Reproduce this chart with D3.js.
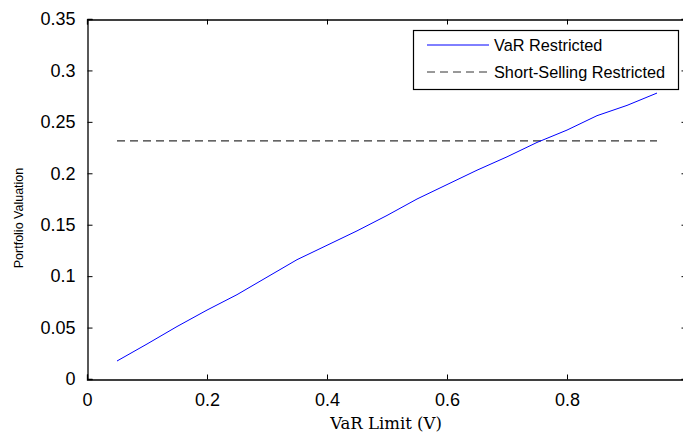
<!DOCTYPE html>
<html>
<head>
<meta charset="utf-8">
<script src="https://cdn.jsdelivr.net/npm/d3@7"></script>
<style>
  body { margin: 0; background: #fff; }
  svg { display: block; }
</style>
</head>
<body>
<svg></svg>
<script>
// VaR limit on x, portfolio value on y
var varLimits = [0.05, 0.10, 0.15, 0.20, 0.25, 0.30, 0.35, 0.40, 0.45, 0.50,
                 0.55, 0.60, 0.65, 0.70, 0.75, 0.80, 0.85, 0.90, 0.95];
var varRestricted = [0.0175, 0.034, 0.051, 0.067, 0.082, 0.099, 0.116, 0.130, 0.144, 0.159,
                     0.175, 0.189, 0.203, 0.216, 0.230, 0.242, 0.256, 0.266, 0.278];
var shortSellingLimits = [0.05, 0.95];
var shortSellingValue = [0.2315, 0.2315];
var xTicks = [0, 0.2, 0.4, 0.6, 0.8];
var yTicks = [0, 0.05, 0.1, 0.15, 0.2, 0.25, 0.3, 0.35];
var seriesNames = ['VaR Restricted', 'Short-Selling Restricted'];

function drawChart() {
    var size = { w: 683, h: 434 };
    var box = { left: 87, right: 687, top: 19, bottom: 379 };
    var svg = d3.select('svg')
        .attr('width', size.w)
        .attr('height', size.h);

    var x = d3.scaleLinear().domain([0, 1]).range([box.left, box.right]);
    var y = d3.scaleLinear().domain([0, 0.35]).range([box.bottom, box.top]);

    var tickFont = 'Liberation Sans, Arial, sans-serif';

    // inward ticks on all four sides, matlab style
    var xAxis = d3.axisBottom(x).tickValues(xTicks).tickSize(-5).tickPadding(14)
        .tickFormat(d3.format('~g'));
    var yAxis = d3.axisLeft(y).tickValues(yTicks).tickSize(-5).tickPadding(12)
        .tickFormat(d3.format('~g'));

    var gx = svg.append('g')
        .attr('transform', `translate(0, ${box.bottom + 0.5})`)
        .call(xAxis);
    var gy = svg.append('g')
        .attr('transform', `translate(${box.left + 0.5}, 0)`)
        .call(yAxis);
    svg.append('g')
        .attr('transform', `translate(0, ${box.top + 0.5})`)
        .call(d3.axisTop(x).tickValues(xTicks).tickSize(-5).tickFormat(''));
    svg.append('g')
        .attr('transform', `translate(${box.right - 0.5}, 0)`)
        .call(d3.axisRight(y).tickValues(yTicks).tickSize(-5).tickFormat(''));

    svg.selectAll('.domain').attr('stroke', '#000').attr('stroke-width', 1.3);
    svg.selectAll('.tick line').attr('stroke', '#000');
    svg.selectAll('.tick text')
        .attr('font-family', tickFont)
        .attr('font-size', 18)
        .attr('fill', '#000');
    gx.selectAll('.tick text').attr('dy', '0.71em');

    var line = d3.line().x(d => x(d[0])).y(d => y(d[1]));

    svg.append('path')
        .datum(d3.zip(shortSellingLimits, shortSellingValue))
        .attr('fill', 'none')
        .attr('stroke', '#333')
        .attr('stroke-width', 1.1)
        .attr('stroke-dasharray', '8,5')
        .attr('d', line);

    svg.append('path')
        .datum(d3.zip(varLimits, varRestricted))
        .attr('fill', 'none')
        .attr('stroke', '#0000ff')
        .attr('stroke-width', 1)
        .attr('d', line);

    // axis labels
    svg.append('text')
        .attr('x', (box.left + box.right) / 2 - 1)
        .attr('y', 429)
        .attr('text-anchor', 'middle')
        .attr('font-family', 'DejaVu Serif, Liberation Serif, serif')
        .attr('font-size', 16.5)
        .text('VaR Limit (V)');

    svg.append('text')
        .attr('transform', 'translate(23, 218) rotate(-90)')
        .attr('text-anchor', 'middle')
        .attr('font-family', tickFont)
        .attr('font-size', 12.5)
        .text('Portfolio Valuation');

    // legend
    var legend = svg.append('g');
    legend.append('rect')
        .attr('x', 413.5).attr('y', 30.5)
        .attr('width', 265).attr('height', 59)
        .attr('fill', '#fff')
        .attr('stroke', '#000')
        .attr('stroke-width', 1.2);

    var styles = [
        { stroke: '#0000ff', dash: null },
        { stroke: '#333', dash: '8,5' }
    ];
    seriesNames.forEach((name, i) => {
        var ly = 45 + i * 27;
        legend.append('line')
            .attr('x1', 427).attr('x2', 489)
            .attr('y1', ly).attr('y2', ly)
            .attr('stroke', styles[i].stroke)
            .attr('stroke-dasharray', styles[i].dash);
        legend.append('text')
            .attr('x', 494)
            .attr('y', ly)
            .attr('dy', '0.35em')
            .attr('font-family', tickFont)
            .attr('font-size', 16.3)
            .text(name);
    });
}

drawChart();
</script>
</body>
</html>
